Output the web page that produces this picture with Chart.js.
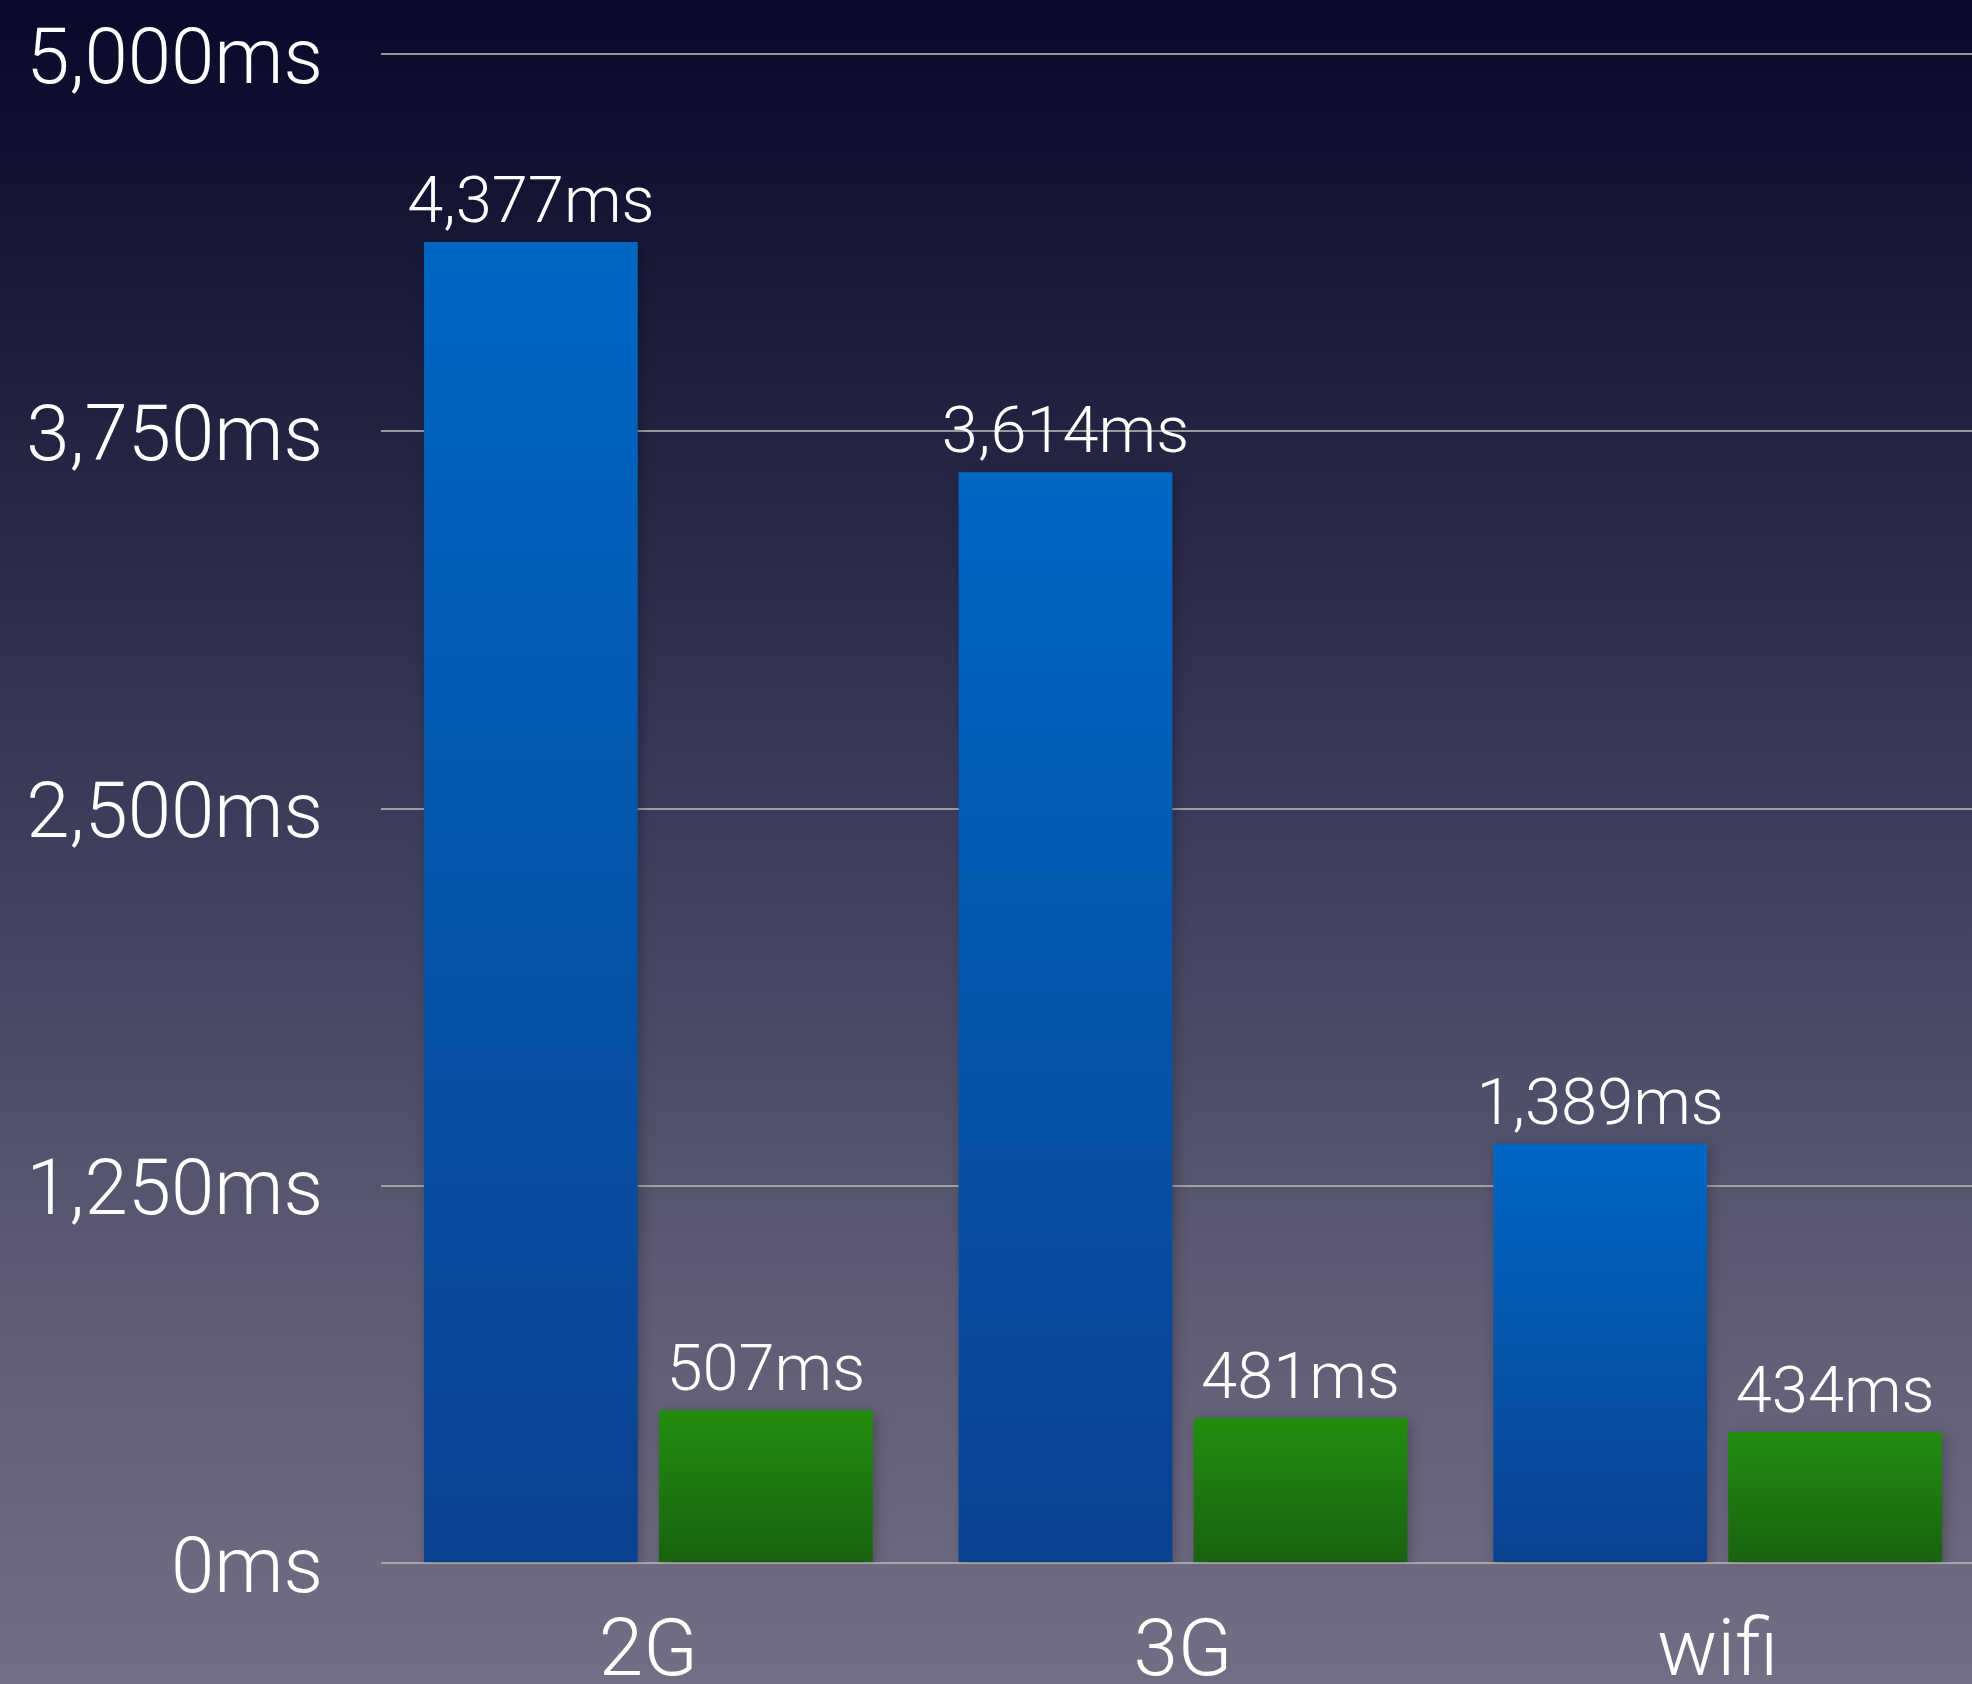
<!DOCTYPE html>
<html>
<head>
<meta charset="utf-8">
<script src="https://cdn.jsdelivr.net/npm/chart.js@4/dist/chart.umd.min.js"></script>
<style>
  html, body { margin: 0; padding: 0; width: 1972px; height: 1684px; overflow: hidden; }
  body { background: linear-gradient(to bottom, #09092a 0%, #1b1d3a 20%, #3c3e5c 50%, #5c5a72 75%, #736e83 100%); }
  #chart { position: absolute; left: 0; top: 0; }
</style>
</head>
<body>
<canvas id="chart" width="1990" height="1684"></canvas>
<script>
/* --------------- Data --------------------- */
var categories = ["2G", "3G", "wifi"];
var slowValues = [4377, 3614, 1389];
var fastValues = [507, 481, 434];
var yTicks = [0, 1250, 2500, 3750, 5000];

var fontFamily = "Roboto, 'Noto Sans', 'Liberation Sans', sans-serif";

function fmtMs(v) {
  return v.toLocaleString("en-US") + "ms";
}

/* --------------- Vertical gradient for each bar --------------------- */
function barGradient(top, bottom, fallback) {
  return function (context) {
    var chart = context.chart;
    var y = chart.scales.y;
    if (!chart.chartArea || !y) return fallback;
    var v = context.raw;
    var yTop = y.getPixelForValue(v);
    var yBot = y.getPixelForValue(0);
    var g = chart.ctx.createLinearGradient(0, yTop, 0, yBot);
    g.addColorStop(0, top);
    g.addColorStop(1, bottom);
    return g;
  };
}

/* --------------- Value labels above bars + soft shadow --------------------- */
var valueLabels = {
  id: "valueLabels",
  beforeDatasetsDraw: function (chart) {
    var ctx = chart.ctx;
    ctx.save();
    ctx.shadowColor = "rgba(0,0,0,0.25)";
    ctx.shadowBlur = 12;
    ctx.shadowOffsetX = 3;
    ctx.shadowOffsetY = 4;
  },
  afterDatasetsDraw: function (chart) {
    var ctx = chart.ctx;
    ctx.restore();
    ctx.save();
    ctx.fillStyle = "#ffffff";
    ctx.font = "300 65px " + fontFamily;
    ctx.textAlign = "center";
    ctx.textBaseline = "alphabetic";
    chart.data.datasets.forEach(function (ds, di) {
      var meta = chart.getDatasetMeta(di);
      meta.data.forEach(function (bar, i) {
        ctx.fillText(fmtMs(ds.data[i]), bar.x, bar.y - 20);
      });
    });
    ctx.restore();
  }
};

/* --------------- Chart --------------------- */
var chart = new Chart(document.getElementById("chart"), {
  type: "bar",
  plugins: [valueLabels],
  data: {
    labels: categories,
    datasets: [
      {
        data: slowValues,
        backgroundColor: barGradient("#0067c4", "#0a4190", "#0657b0"),
        borderWidth: 0
      },
      {
        data: fastValues,
        backgroundColor: barGradient("#218d0f", "#1a6211", "#1e7810"),
        borderWidth: 0
      }
    ]
  },
  options: {
    responsive: false,
    devicePixelRatio: 1,
    animation: false,
    categoryPercentage: 0.879,
    barPercentage: 0.91,
    layout: { padding: { top: 54, right: 5, left: 0, bottom: 0 } },
    plugins: {
      legend: { display: false },
      tooltip: { enabled: false }
    },
    scales: {
      x: {
        grid: { display: false, drawTicks: false },
        border: { display: false },
        ticks: {
          color: "#ffffff",
          font: { family: fontFamily, size: 80, weight: 300 },
          padding: 44
        },
        afterFit: function (scale) { scale.height = 121; }
      },
      y: {
        min: 0,
        max: 5000,
        afterBuildTicks: function (scale) {
          scale.ticks = yTicks.map(function (v) { return { value: v }; });
        },
        grid: { color: "rgba(175,175,175,0.85)", lineWidth: 2, drawTicks: false },
        border: { display: false },
        ticks: {
          color: "#ffffff",
          // blank first line + small line height nudges the label ~9px below its gridline
          font: { family: fontFamily, size: 78, weight: 300, lineHeight: "18px" },
          padding: 58,
          callback: function (v) { return ["", fmtMs(v)]; }
        },
        afterFit: function (scale) {
          scale.width = 381;
          scale.paddingTop = 0;
          scale.paddingBottom = 0;
        }
      }
    }
  }
});
</script>
</body>
</html>
